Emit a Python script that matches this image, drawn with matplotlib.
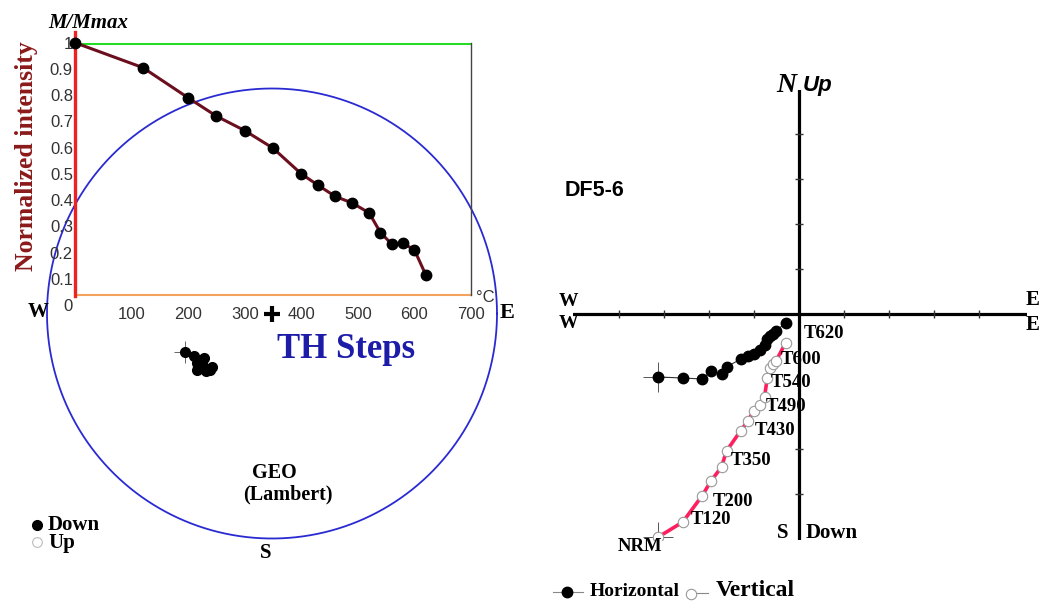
import numpy as np
import matplotlib
matplotlib.use("Agg")
import matplotlib.pyplot as plt

# thermal demagnetisation steps (deg C) and normalised intensity M/Mmax
steps = [0, 120, 200, 250, 300, 350, 400, 430, 460, 490, 520, 540, 560, 580, 600, 620]
intensity = [1.0, 0.905, 0.79, 0.72, 0.665, 0.598, 0.50, 0.456, 0.414, 0.389,
             0.351, 0.276, 0.232, 0.235, 0.21, 0.115]

# remanence vector components (arbitrary units), same steps
east = [-141, -116.5, -97, -88.3, -77.8, -72.8, -58.5, -51.3, -45.8, -39.8,
        -34.8, -32, -29.3, -26.3, -23.3, -13.8]
north = [-63, -64, -65, -57, -60, -53, -45, -42, -40, -36, -31, -25, -22, -19.5, -17, -9]
down = [223, 208, 181.5, 167, 153, 137, 116.5, 107, 97, 91, 83, 64, 54, 50, 47, 29]

# labels written next to the vertical projection
zij_labels = {0: "NRM", 120: "T120", 200: "T200", 350: "T350", 430: "T430",
              490: "T490", 540: "T540", 600: "T600", 620: "T620"}

SERIF = "Liberation Serif"
SANS = "Liberation Sans"

W, H = 1043, 605
fig = plt.figure(figsize=(W / 100, H / 100), dpi=100)


def box(x0, y0, x1, y1):
    # pixel box (top-left origin) -> figure fraction rect
    return [x0 / W, 1 - y1 / H, (x1 - x0) / W, (y1 - y0) / H]


def ptext(x, y, s, **kw):
    kw.setdefault("family", SERIF)
    kw.setdefault("fontweight", "bold")
    return fig.text(x / W, 1 - y / H, s, **kw)


# ---------------- stereonet (Lambert equal area) ----------------
ax_s = fig.add_axes(box(47, 88.5, 497, 538.5), zorder=1)
ax_s.set_xlim(-1, 1)
ax_s.set_ylim(-1, 1)
ax_s.axis("off")
t = np.linspace(0, 2 * np.pi, 400)
ax_s.plot(np.cos(t), np.sin(t), color="#2a2ad2", lw=1.3, clip_on=False)
ax_s.plot(0, 0, marker="+", ms=11, mew=3, color="black")

e = np.array(east, float)
n = np.array(north, float)
d = np.array(down, float)
dec = np.radians(np.degrees(np.arctan2(e, n)) % 360)
inc = np.degrees(np.arctan2(d, np.hypot(e, n)))
r = np.sqrt(2) * np.sin(np.radians(90 - np.abs(inc)) / 2)
sx, sy = r * np.sin(dec), r * np.cos(dec)
ax_s.plot(sx[0], sy[0], marker="+", ms=16, mew=0.7, color="#666666")
ax_s.plot(sx, sy, "o", color="black", ms=7, ls="none")

ptext(38, 312, "W", fontsize=15, ha="center", va="center")
ptext(507, 313, "E", fontsize=16, ha="center", va="center")
ptext(266, 553, "S", fontsize=15, ha="center", va="center")
ptext(277, 358, "TH Steps", fontsize=25, color="#1c1ca8", ha="left", va="baseline")
ptext(274, 473, "GEO", fontsize=14.5, ha="center", va="center")
ptext(288, 494, "(Lambert)", fontsize=14.5, ha="center", va="center")

# legend Down / Up
fig.lines.append(plt.Line2D([37 / W], [1 - 525 / H], marker="o", ms=7, color="black",
                            transform=fig.transFigure))
fig.lines.append(plt.Line2D([37 / W], [1 - 542 / H], marker="o", ms=7, mfc="white",
                            mec="#bbbbbb", mew=0.8, transform=fig.transFigure))
ptext(48, 525, "Down", fontsize=15, ha="left", va="center")
ptext(48, 543, "Up", fontsize=15, ha="left", va="center")

# ---------------- intensity decay ----------------
ax_i = fig.add_axes(box(75, 42.7, 471, 305), facecolor="none", zorder=3)
ax_i.set_xlim(0, 700)
ax_i.set_ylim(0, 1)
for sp in ax_i.spines.values():
    sp.set_visible(False)
ax_i.axhline(1.0, color="#22dd22", lw=2.2, zorder=2)
ax_i.plot([0, 700], [0.038, 0.038], color="#f4a35e", lw=1.5, clip_on=False)
ax_i.plot([700, 700], [0.038, 1.0], color="#444444", lw=1.0, clip_on=False)
ax_i.plot([0, 0], [0.035, 1.04], color="#ee2222", lw=2.4, clip_on=False, zorder=3)
ax_i.plot(steps, intensity, color="#6b0f1f", lw=2.2, marker="o", mfc="black",
          mec="black", ms=7.5, clip_on=False, zorder=5)
ax_i.set_xticks([100, 200, 300, 400, 500, 600, 700])
ax_i.set_yticks([0, 0.1, 0.2, 0.3, 0.4, 0.5, 0.6, 0.7, 0.8, 0.9, 1.0])
ax_i.set_yticklabels(["0", "0.1", "0.2", "0.3", "0.4", "0.5", "0.6", "0.7", "0.8", "0.9", "1"])
ax_i.tick_params(length=0, labelsize=12, labelcolor="#333333", pad=1.5)
for lab in ax_i.get_xticklabels() + ax_i.get_yticklabels():
    lab.set_family(SANS)

ptext(88, 23, "M/Mmax", fontsize=15, fontstyle="italic", ha="center", va="center")
ptext(27, 156, "Normalized intensity", fontsize=18.5, color="#8b1a1a", rotation=90,
      ha="center", va="center")
ptext(476, 298, "°C", fontsize=12, fontweight="normal", family=SANS, color="#333333",
      ha="left", va="center")

# ---------------- Zijderveld diagram ----------------
ax_z = fig.add_axes(box(573, 90, 1027, 540), zorder=2)
ax_z.set_xlim(-226.3, 227.7)
ax_z.set_ylim(-226, 224)
ax_z.axis("off")
ax_z.axhline(0, color="black", lw=2.3)
ax_z.axvline(0, color="black", lw=2.3)
tk = np.array([-4, -3, -2, -1, 1, 2, 3, 4]) * 45
ax_z.plot(tk, np.zeros_like(tk), ls="none", marker="|", ms=6, mew=1, color="#333333")
ax_z.plot(np.zeros_like(tk[[0, 1, 4, 5, 6, 7]]), tk[[0, 1, 4, 5, 6, 7]], ls="none",
          marker="_", ms=6, mew=1, color="#333333")

# horizontal projection (E, N)
ax_z.plot(e[0], n[0], marker="+", ms=22, mew=0.7, color="#555555")
ax_z.plot(e, n, color="#333333", lw=0.8, marker="o", mfc="black", mec="black", ms=7.5,
          zorder=4)
# vertical projection (E, Up)
ax_z.plot(e[0], -d[0], marker="+", ms=22, mew=0.7, color="#555555")
ax_z.plot(e, -d, color="#ff1f5e", lw=2.6, zorder=3)
ax_z.plot(e, -d, ls="none", marker="o", mfc="white", mec="#999999", mew=0.8, ms=7.5,
          zorder=4)

offsets = {0: (3, -7), 120: (6, 1.5), 200: (7.5, -4.5), 350: (3, -7), 430: (5, -7),
           490: (4.5, -1), 540: (2.5, -3.5), 600: (3.5, 1.2), 620: (13.5, 7)}
for i, s in enumerate(steps):
    if s in zij_labels:
        dx, dy = offsets[s]
        ax_z.annotate(zij_labels[s], (e[i], -d[i]), xytext=(dx, dy), textcoords="offset points",
                      ha="right" if s == 0 else "left", va="center", fontsize=13.5,
                      family=SERIF, fontweight="bold", zorder=6)

ptext(568, 301, "W", fontsize=14, ha="center", va="center")
ptext(568, 324, "W", fontsize=14, ha="center", va="center")
ptext(1033, 300, "E", fontsize=15, ha="center", va="center")
ptext(1033, 325, "E", fontsize=15, ha="center", va="center")
ptext(786, 85, "N", fontsize=20, fontstyle="italic", ha="center", va="center")
ptext(803, 86, "Up", fontsize=16, fontstyle="italic", family=SANS, ha="left", va="center")
ptext(783, 533, "S", fontsize=15, ha="center", va="center")
ptext(806, 533, "Down", fontsize=15, ha="left", va="center")
ptext(565, 190, "DF5-6", fontsize=15.5, family=SANS, ha="left", va="center")

# bottom legend
fig.lines.append(plt.Line2D([553 / W, 583 / W], [1 - 592 / H] * 2, color="#888888", lw=0.8,
                            transform=fig.transFigure))
fig.lines.append(plt.Line2D([567 / W], [1 - 592 / H], marker="o", ms=7.5, color="black",
                            transform=fig.transFigure))
ptext(590, 592, "Horizontal", fontsize=14, ha="left", va="center")
fig.lines.append(plt.Line2D([695 / W, 708 / W], [1 - 593 / H] * 2, color="#888888", lw=0.8,
                            transform=fig.transFigure))
fig.lines.append(plt.Line2D([691 / W], [1 - 594 / H], marker="o", ms=7.5, mfc="white",
                            mec="#999999", mew=0.8, transform=fig.transFigure))
ptext(716, 591, "Vertical", fontsize=17, ha="left", va="center")

fig.savefig("out.png", dpi=100)
